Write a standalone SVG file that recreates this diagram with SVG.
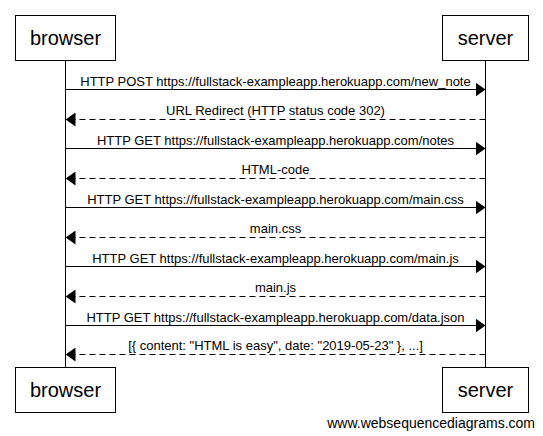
<svg xmlns="http://www.w3.org/2000/svg" width="543" height="436" viewBox="0 0 543 436">
<defs>
<style>
.box{fill:#fff;stroke:#000;stroke-width:1}
.actor{font-family:"Liberation Sans",Arial,sans-serif;font-size:20px;fill:#000;text-anchor:middle}
.life{stroke:#000;stroke-width:1}
.msg{stroke:#000;stroke-width:1;fill:none;marker-end:url(#arrow)}
.dash{stroke-dasharray:6,4}
.lbl{font-family:"Liberation Sans",Arial,sans-serif;font-size:13px;fill:#000;text-anchor:middle}
.wm{font-family:"Liberation Sans",Arial,sans-serif;font-size:14px;fill:#000;text-anchor:end}
</style>
<marker id="arrow" viewBox="0 0 10 14" refX="10" refY="7" markerWidth="10" markerHeight="14" markerUnits="userSpaceOnUse" orient="auto">
<path d="M0,0 L10,7 L0,14 Z" fill="#000"/>
</marker>
</defs>
<rect width="543" height="436" fill="#fff"/>
<g id="lifelines">
<line class="life" x1="65.5" y1="60" x2="65.5" y2="367"/>
<line class="life" x1="485.5" y1="60" x2="485.5" y2="367"/>
</g>
<g id="browser">
<rect class="box" x="15.5" y="15.5" width="100" height="45"/>
<text class="actor" x="65.5" y="45">browser</text>
</g>
<g id="server">
<rect class="box" x="442.5" y="15.5" width="86" height="45"/>
<text class="actor" x="485.5" y="45">server</text>
</g>
<g id="browser-bottom">
<rect class="box" x="15.5" y="367.5" width="100" height="45"/>
<text class="actor" x="65.5" y="397">browser</text>
</g>
<g id="server-bottom">
<rect class="box" x="442.5" y="367.5" width="86" height="45"/>
<text class="actor" x="485.5" y="397">server</text>
</g>
<g id="connectors">
<line class="msg" x1="65.5" y1="89.5" x2="485.5" y2="89.5"/>
<text class="lbl" x="275.5" y="85.5">HTTP POST https://fullstack-exampleapp.herokuapp.com/new_note</text>
<line class="msg dash" x1="485.5" y1="119.5" x2="65.5" y2="119.5"/>
<text class="lbl" x="275.5" y="115">URL Redirect (HTTP status code 302)</text>
<line class="msg" x1="65.5" y1="148.5" x2="485.5" y2="148.5"/>
<text class="lbl" x="275.5" y="144.5">HTTP GET https://fullstack-exampleapp.herokuapp.com/notes</text>
<line class="msg dash" x1="485.5" y1="178.5" x2="65.5" y2="178.5"/>
<text class="lbl" x="275.5" y="174">HTML-code</text>
<line class="msg" x1="65.5" y1="207.5" x2="485.5" y2="207.5"/>
<text class="lbl" x="275.5" y="203.5">HTTP GET https://fullstack-exampleapp.herokuapp.com/main.css</text>
<line class="msg dash" x1="485.5" y1="237.5" x2="65.5" y2="237.5"/>
<text class="lbl" x="275.5" y="233">main.css</text>
<line class="msg" x1="65.5" y1="266.5" x2="485.5" y2="266.5"/>
<text class="lbl" x="275.5" y="262.5">HTTP GET https://fullstack-exampleapp.herokuapp.com/main.js</text>
<line class="msg dash" x1="485.5" y1="296.5" x2="65.5" y2="296.5"/>
<text class="lbl" x="275.5" y="292">main.js</text>
<line class="msg" x1="65.5" y1="325.5" x2="485.5" y2="325.5"/>
<text class="lbl" x="275.5" y="321.5">HTTP GET https://fullstack-exampleapp.herokuapp.com/data.json</text>
<line class="msg dash" x1="485.5" y1="354.5" x2="65.5" y2="354.5"/>
<text class="lbl" x="275.5" y="350">[{ content: "HTML is easy", date: "2019-05-23" }, ...]</text>
</g>
<text class="wm" x="535" y="428">www.websequencediagrams.com</text>
</svg>
